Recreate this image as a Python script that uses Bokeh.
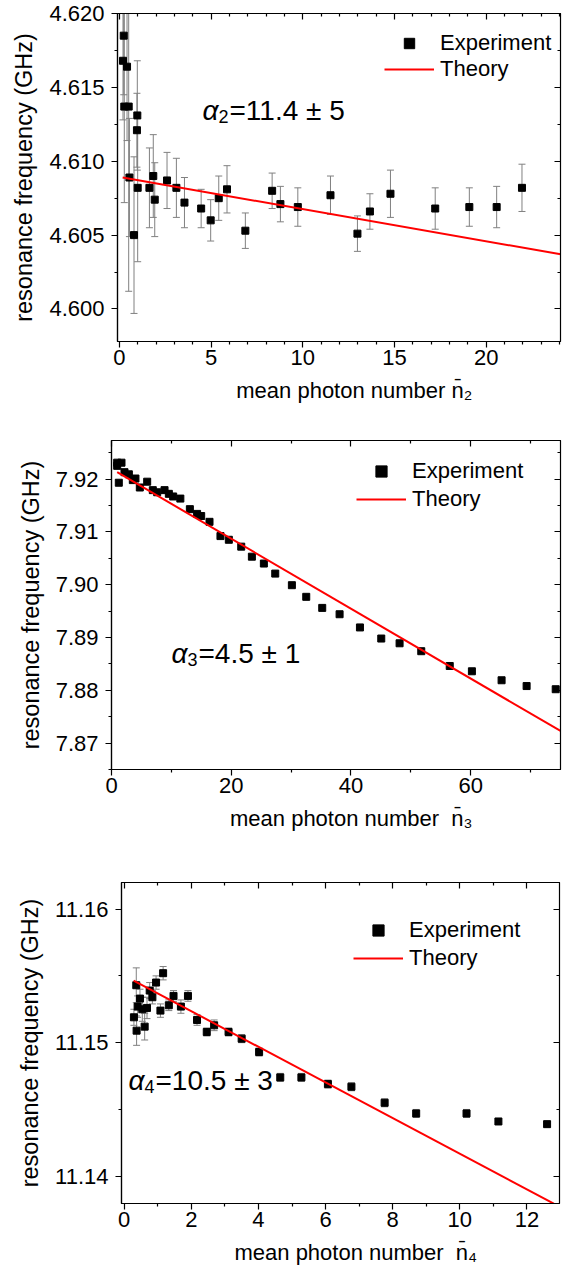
import numpy as np
from bokeh.plotting import figure
from bokeh.models import (LinearAxis, Range1d, Label, Legend, LegendItem,
                          FixedTicker, NumeralTickFormatter)
from bokeh.embed import file_html
from bokeh.resources import INLINE

FONT = "Liberation Sans"
NB = "\u00a0"

# ---------------- data: panel 1 (n2) ----------------
n2_x = [0.20, 0.24, 0.27, 0.42, 0.51, 0.55, 0.80, 0.96, 0.98, 1.00, 1.64, 1.85,
        1.93, 2.60, 3.11, 3.55, 4.46, 4.98, 5.42, 5.87, 6.87, 8.33, 8.78, 9.73,
        11.51, 12.98, 13.66, 14.78, 17.22, 19.08, 20.57, 21.95]
n2_f = [4.6168, 4.6185, 4.6137, 4.6164, 4.6137, 4.6089, 4.6050, 4.6121, 4.6131,
        4.6082, 4.6082, 4.6090, 4.6074, 4.6087, 4.6082, 4.6072, 4.6068, 4.6060,
        4.6075, 4.6081, 4.6053, 4.6080, 4.6071, 4.6069, 4.6077, 4.6051, 4.6066,
        4.6078, 4.6068, 4.6069, 4.6069, 4.6082]
n2_err = [0.0040, 0.0040, 0.0065, 0.0050, 0.0125, 0.0040, 0.0053, 0.0025, 0.0037,
          0.0050, 0.0027, 0.0028, 0.0025, 0.0019, 0.0020, 0.0017, 0.0013, 0.0014,
          0.0015, 0.0016, 0.0012, 0.0012, 0.0012, 0.0013, 0.0013, 0.0012, 0.0012,
          0.0016, 0.0014, 0.0013, 0.0014, 0.0016]
th2_x = [0.18, 24.06]
th2_f = [4.6089, 4.6037]

# ---------------- data: panel 2 (n3) ----------------
n3_x = [0.95, 1.67, 0.95, 1.22, 2.17, 2.90, 3.56, 4.00, 4.73, 5.96, 6.90, 7.63,
        8.86, 9.58, 10.30, 11.50, 13.09, 14.30, 14.98, 16.37, 18.20, 19.60, 21.67,
        23.45, 25.45, 27.35, 30.13, 32.53, 35.20, 38.10, 41.50, 45.06, 48.12,
        51.74, 56.50, 60.20, 65.16, 69.34, 74.20]
n3_f = [7.9231, 7.9231, 7.9225, 7.9193, 7.9213, 7.9209, 7.9198, 7.9201, 7.9184,
        7.9195, 7.9179, 7.9175, 7.9179, 7.9172, 7.9167, 7.9163, 7.9143, 7.9134,
        7.9130, 7.9119, 7.9092, 7.9085, 7.9072, 7.9053, 7.9040, 7.9021, 7.8999,
        7.8977, 7.8956, 7.8944, 7.8919, 7.8898, 7.8889, 7.8874, 7.8846, 7.8836,
        7.8819, 7.8808, 7.8802]
th3_x = [0.95, 75.0]
th3_f = [7.9213, 7.8723]

# ---------------- data: panel 3 (n4) ----------------
n4_x = [0.29, 0.37, 0.36, 0.40, 0.47, 0.54, 0.61, 0.68, 0.76, 0.84, 0.95, 1.08,
        1.16, 1.33, 1.47, 1.69, 1.90, 2.17, 2.46, 2.68, 3.11, 3.50, 4.02, 4.65,
        5.28, 6.07, 6.77, 7.76, 8.70, 10.20, 11.15, 12.60]
n4_f = [11.1519, 11.1509, 11.1543, 11.1527, 11.1533, 11.1525, 11.1512, 11.1526,
        11.1539, 11.1534, 11.1545, 11.1524, 11.1552, 11.1528, 11.1535, 11.1527,
        11.1535, 11.1517, 11.1508, 11.1513, 11.1508, 11.1503, 11.1493, 11.1474,
        11.1474, 11.1469, 11.1467, 11.1455, 11.1447, 11.1447, 11.1441, 11.1439]
n4_err = [0.0006, 0.0011, 0.0013, 0.0008, 0.0007, 0.0009, 0.0010, 0.0008, 0.0006,
          0.0005, 0.0005, 0.0005, 0.0005, 0.0004, 0.0004, 0.0005, 0.0004, 0.0004,
          0.0003, 0.0004, 0.0003, 0.0003, 0.0003, 0.0003, 0.0003, 0.0003, 0.0003,
          0.0003, 0.0003, 0.0003, 0.0002, 0.0002]
th4_x = [0.28, 12.80]
th4_f = [11.15465, 11.13795]

# tick labels
x2_ticks = [0, 5, 10, 15, 20]
y2_ticks = [4.600, 4.605, 4.610, 4.615, 4.620]
x3_ticks = [0, 20, 40, 60]
y3_ticks = [7.87, 7.88, 7.89, 7.90, 7.91, 7.92]
x4_ticks = [0, 2, 4, 6, 8, 10, 12]
y4_ticks = [11.14, 11.15, 11.16]


def minors(major, step, lo, hi):
    out = []
    v = major[0] - 10 * step
    while v <= hi + 1e-12:
        if v >= lo - 1e-12 and all(abs(v - m) > step * 1e-3 for m in major):
            out.append(round(v, 6))
        v += step
    return out


def panel(xr, yr, fw, fh, bl, bt, bb, br, xt, xstep, yt, ystep, yfmt, xlabel):
    p = figure(frame_width=fw, frame_height=fh,
               x_range=Range1d(*xr), y_range=Range1d(*yr),
               output_backend="svg", toolbar_location=None,
               min_border_left=bl, min_border_right=br,
               min_border_top=bt, min_border_bottom=bb,
               x_axis_label=xlabel, y_axis_label="resonance frequency (GHz)")
    p.xgrid.visible = False
    p.ygrid.visible = False
    p.outline_line_color = "black"
    p.outline_line_width = 1.2
    p.background_fill_color = "white"
    p.border_fill_color = "white"
    xtk = FixedTicker(ticks=xt, minor_ticks=minors(xt, xstep, xr[0], xr[1]))
    ytk = FixedTicker(ticks=yt, minor_ticks=minors(yt, ystep, yr[0], yr[1]))
    p.xaxis[0].ticker = xtk
    p.yaxis[0].ticker = ytk
    p.yaxis[0].formatter = NumeralTickFormatter(format=yfmt)
    for ax in (p.xaxis[0], p.yaxis[0]):
        ax.axis_line_color = "black"
        ax.axis_line_width = 1.2
        ax.major_tick_line_color = "black"
        ax.minor_tick_line_color = "black"
        ax.major_tick_line_width = 1.2
        ax.minor_tick_line_width = 1.2
        ax.major_tick_out = 6
        ax.major_tick_in = 0
        ax.minor_tick_out = 3
        ax.minor_tick_in = 0
        ax.major_label_text_font = FONT
        ax.major_label_text_font_size = "22px"
        ax.major_label_text_color = "black"
        ax.axis_label_text_font = FONT
        ax.axis_label_text_font_style = "normal"
        ax.axis_label_text_color = "black"
    p.xaxis[0].axis_label_text_font_size = "22px"
    p.yaxis[0].axis_label_text_font_size = "23.5px"
    p.yaxis[0].major_label_standoff = 7
    p.xaxis[0].major_label_standoff = 2
    p.yaxis[0].axis_label_standoff = 9
    p.xaxis[0].axis_label_standoff = 10
    # mirror axes (ticks only, pointing inward)
    top = LinearAxis(ticker=xtk, major_tick_in=6, major_tick_out=0,
                     minor_tick_in=3, minor_tick_out=0,
                     major_tick_line_width=1.2, minor_tick_line_width=1.2,
                     major_tick_line_color="black", minor_tick_line_color="black",
                     axis_line_color="black",
                     major_label_overrides={t: "" for t in xt},
                     major_label_standoff=0)
    right = LinearAxis(ticker=ytk, major_tick_in=6, major_tick_out=0,
                       minor_tick_in=3, minor_tick_out=0,
                       major_tick_line_width=1.2, minor_tick_line_width=1.2,
                       major_tick_line_color="black", minor_tick_line_color="black",
                       axis_line_color="black",
                       major_label_overrides={t: "" for t in yt},
                       major_label_standoff=0)
    p.add_layout(top, "above")
    p.add_layout(right, "right")
    return p


def errbars(p, x, f, e):
    lo = [a - b for a, b in zip(f, e)]
    hi = [a + b for a, b in zip(f, e)]
    p.segment(x0=x, y0=lo, x1=x, y1=hi, line_color="#808080", line_width=1)
    p.scatter(x=x, y=lo, marker="dash", size=7, line_color="#808080", line_width=1)
    p.scatter(x=x, y=hi, marker="dash", size=7, line_color="#808080", line_width=1)


def add_legend(p, sq, ln, vx, vy, h):
    leg = Legend(items=[LegendItem(label="Experiment", renderers=[sq]),
                        LegendItem(label="Theory", renderers=[ln])],
                 location=(vx, vy), padding=0, margin=0, spacing=0,
                 glyph_width=50, glyph_height=h, label_height=h,
                 label_standoff=6, label_text_font=FONT,
                 label_text_font_size="22px", label_text_color="black",
                 border_line_color=None, background_fill_alpha=0)
    p.add_layout(leg)


def annotate(p, x, y, sub, rest):
    p.add_layout(Label(x=x, y=y, x_units="screen", y_units="screen", text="α",
                       text_font=FONT, text_font_style="italic", text_color="black",
                       text_font_size="28px", text_baseline="alphabetic"))
    p.add_layout(Label(x=x + 16, y=y - 6, x_units="screen", y_units="screen", text=sub,
                       text_font=FONT, text_font_size="18px", text_color="black",
                       text_baseline="alphabetic"))
    p.add_layout(Label(x=x + 27, y=y, x_units="screen", y_units="screen", text=rest,
                       text_font=FONT, text_font_size="28px", text_color="black",
                       text_baseline="alphabetic"))


# ---- panel 1
p1 = panel((-0.1, 24.05), (4.5978, 4.620), 443, 328, 117, 13, 87, 7,
           x2_ticks, 1, y2_ticks, 0.0025, "0.000",
           NB * 5 + "mean photon number n\u0304\u2082")
errbars(p1, n2_x, n2_f, n2_err)
sq1 = p1.scatter(x=n2_x, y=n2_f, marker="square", size=7, fill_color="black", line_color="black")
ln1 = p1.line(x=th2_x, y=th2_f, line_color="#ff0000", line_width=2)
add_legend(p1, sq1, ln1, 267, 259, 26)
annotate(p1, 85, 231, "2", "=11.4 \u00b1 5")

# ---- panel 2
p2 = panel((0, 75.0), (7.8650, 7.9273), 449, 329, 111, 12, 81, 7,
           x3_ticks, 10, y3_ticks, 0.005, "0.00",
           NB * 5 + "mean photon number" + NB + " n\u0304\u2083")
sq2 = p2.scatter(x=n3_x, y=n3_f, marker="square", size=7, fill_color="black", line_color="black")
ln2 = p2.line(x=th3_x, y=th3_f, line_color="#ff0000", line_width=2)
add_legend(p2, sq2, ln2, 245, 256, 28)
annotate(p2, 60, 116, "3", "=4.5 \u00b1 1")

# ---- panel 3
p3 = panel((-0.08, 12.97), (11.13796, 11.16199), 438, 321, 121, 32, 70, 8,
           x4_ticks, 1, y4_ticks, 0.005, "0.00",
           NB * 5 + "mean photon number" + NB + " n\u0304\u2084")
errbars(p3, n4_x, n4_f, n4_err)
sq3 = p3.scatter(x=n4_x, y=n4_f, marker="square", size=7, fill_color="black", line_color="black")
ln3 = p3.line(x=th4_x, y=th4_f, line_color="#ff0000", line_width=2)
add_legend(p3, sq3, ln3, 232, 231, 28)
annotate(p3, 7, 123, "4", "=10.5 \u00b1 3")

# three independent roots, stacked on the page (no cross-plot frame alignment)
open("out.html", "w").write(file_html([p1, p2, p3], INLINE))
